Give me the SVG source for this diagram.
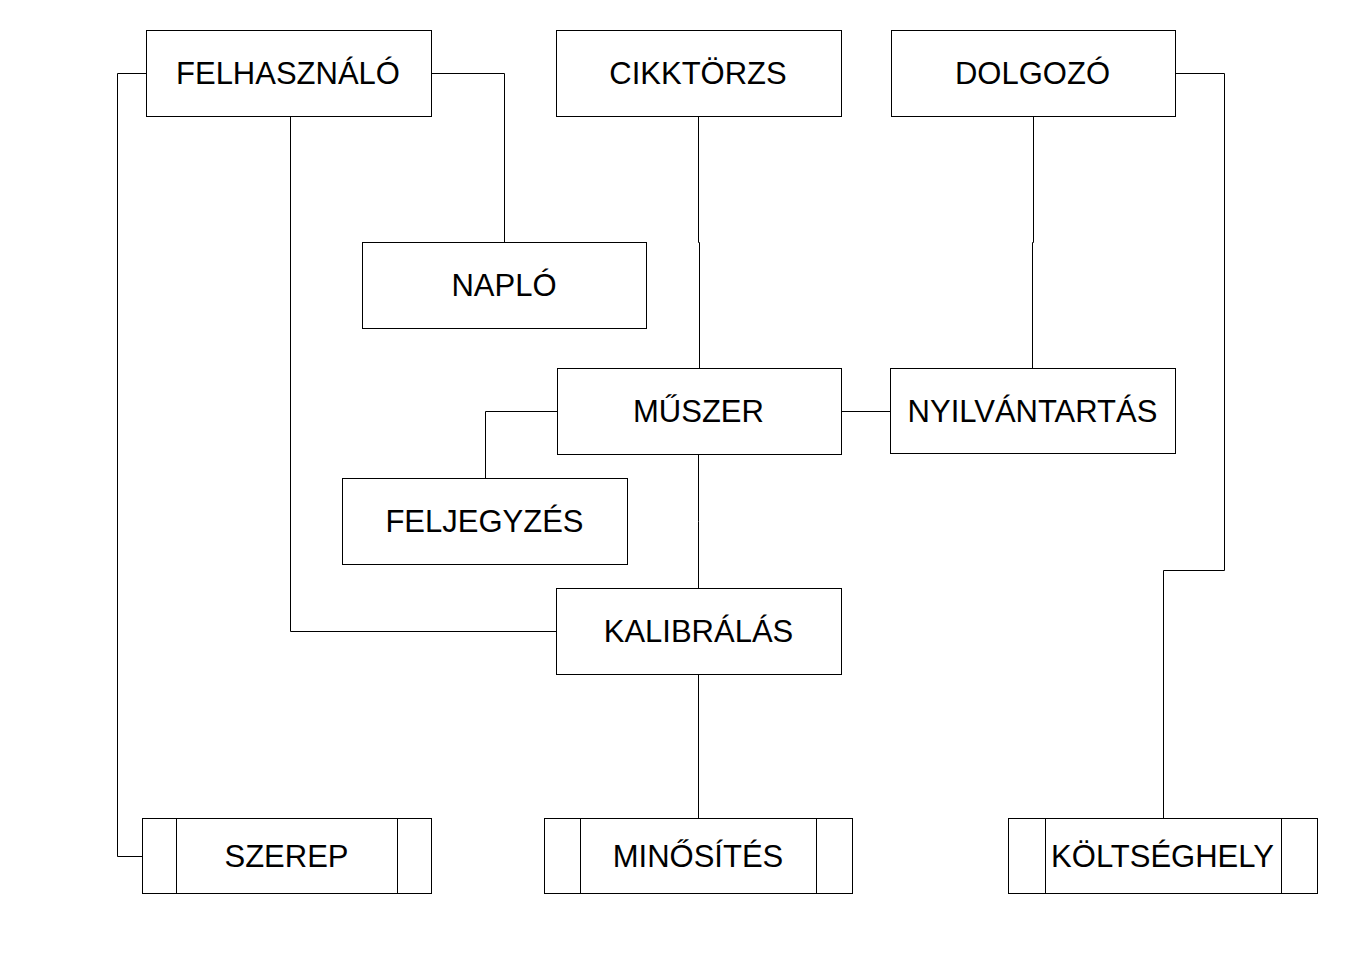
<svg xmlns="http://www.w3.org/2000/svg" width="1356" height="959" viewBox="0 0 1356 959">
<style>
rect{fill:#fff;stroke:#000;stroke-width:1}
.l{fill:none;stroke:#000;stroke-width:1}
text{font-family:"Liberation Sans",Arial,sans-serif;font-size:31px;fill:#000;text-anchor:middle}
</style>
<rect x="0" y="0" width="1356" height="959" style="stroke:none"/>
<g id="connectors">
<path class="l" d="M146.5 73.5H117.5V856.5H142.5"/>
<path class="l" d="M431.5 73.5H504.5V242.5"/>
<path class="l" d="M290.5 116.5V631.5H556.5"/>
<path class="l" d="M698.5 116.5V242.5H699.5V368.5"/>
<path class="l" d="M1033.5 116.5V242.5H1032.5V368.5"/>
<path class="l" d="M1175.5 73.5H1224.5V570.5H1163.5V818.5"/>
<path class="l" d="M841.5 411.5H890.5"/>
<path class="l" d="M557.5 411.5H485.5V478.5"/>
<path class="l" d="M698.5 454.5V521.5H698.5V588.5"/>
<path class="l" d="M698.5 674.5V818.5"/>
</g>
<g id="felhasznalo"><rect x="146.5" y="30.5" width="285" height="86"/><text x="288" y="84">FELHASZNÁLÓ</text></g>
<g id="cikktorzs"><rect x="556.5" y="30.5" width="285" height="86"/><text x="698" y="84">CIKKTÖRZS</text></g>
<g id="dolgozo"><rect x="891.5" y="30.5" width="284" height="86"/><text x="1032.5" y="84">DOLGOZÓ</text></g>
<g id="naplo"><rect x="362.5" y="242.5" width="284" height="86"/><text x="504" y="296">NAPLÓ</text></g>
<g id="muszer"><rect x="557.5" y="368.5" width="284" height="86"/><text x="698.5" y="422">MŰSZER</text></g>
<g id="nyilvantartas"><rect x="890.5" y="368.5" width="285" height="85"/><text x="1032.5" y="422">NYILVÁNTARTÁS</text></g>
<g id="feljegyzes"><rect x="342.5" y="478.5" width="285" height="86"/><text x="484.5" y="532">FELJEGYZÉS</text></g>
<g id="kalibralas"><rect x="556.5" y="588.5" width="285" height="86"/><text x="698.5" y="642">KALIBRÁLÁS</text></g>
<g id="szerep"><rect x="142.5" y="818.5" width="289" height="75"/><path class="l" d="M176.5 818.5V893.5M397.5 818.5V893.5"/><text x="286.5" y="867">SZEREP</text></g>
<g id="minosites"><rect x="544.5" y="818.5" width="308" height="75"/><path class="l" d="M580.5 818.5V893.5M816.5 818.5V893.5"/><text x="698" y="867">MINŐSÍTÉS</text></g>
<g id="koltseghely"><rect x="1008.5" y="818.5" width="309" height="75"/><path class="l" d="M1045.5 818.5V893.5M1281.5 818.5V893.5"/><text x="1162.5" y="867">KÖLTSÉGHELY</text></g>
</svg>
